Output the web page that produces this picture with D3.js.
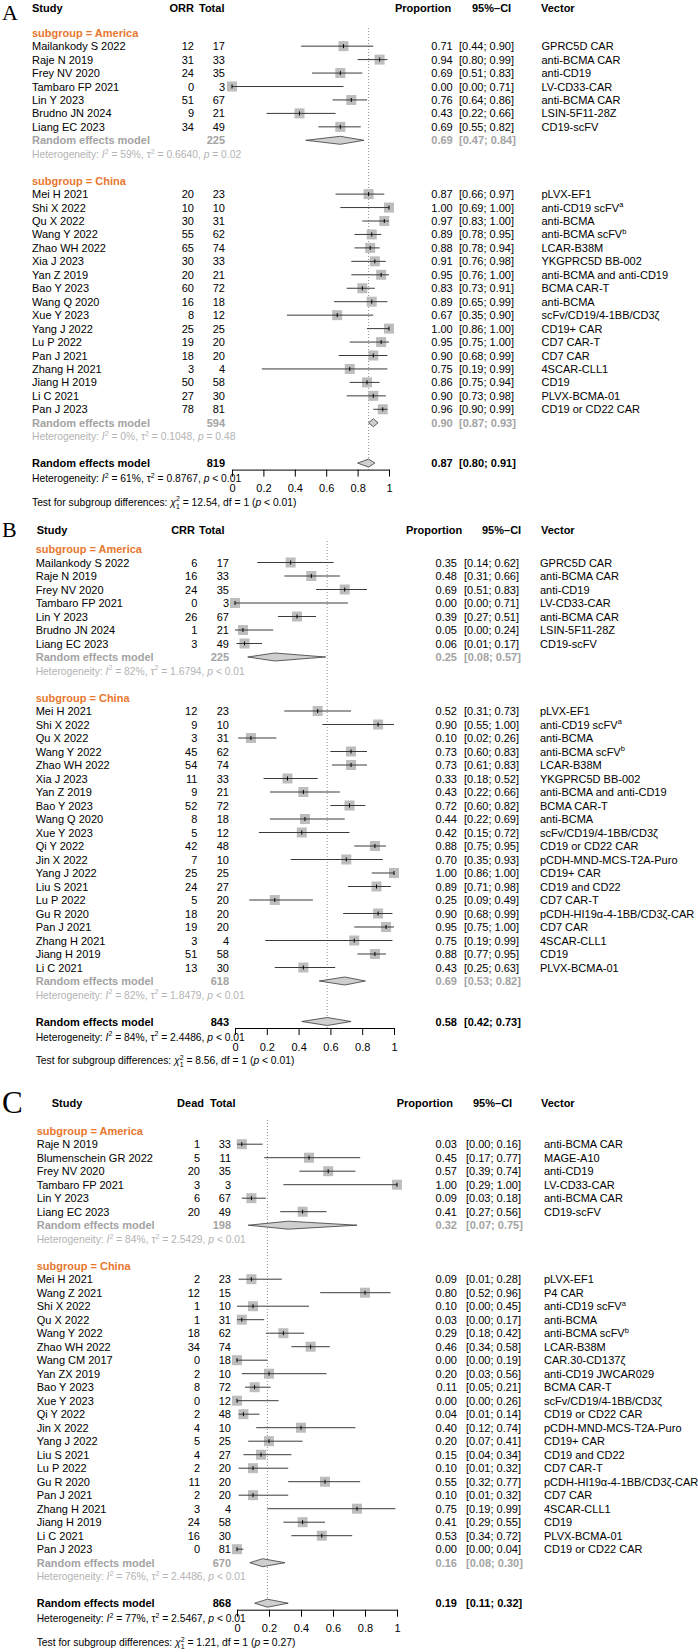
<!DOCTYPE html>
<html>
<head>
<meta charset="utf-8">
<script src="https://cdn.jsdelivr.net/npm/d3@7"></script>
<style>
  body { margin: 0; background: #fff; }
  svg text { font-family: "Liberation Sans", Arial, Helvetica, sans-serif; }
</style>
</head>
<body>
<svg id="chart" width="698" height="1652"></svg>
<script>
// rows: study, events, total, proportion, lower, upper, vector ("^" marks a superscript)
const A_america = [
  ["Mailankody S 2022", 12, 17, 0.71, 0.44, 0.90, "GPRC5D CAR"],
  ["Raje N 2019", 31, 33, 0.94, 0.80, 0.99, "anti-BCMA CAR"],
  ["Frey NV 2020", 24, 35, 0.69, 0.51, 0.83, "anti-CD19"],
  ["Tambaro FP 2021", 0, 3, 0.00, 0.00, 0.71, "LV-CD33-CAR"],
  ["Lin Y 2023", 51, 67, 0.76, 0.64, 0.86, "anti-BCMA CAR"],
  ["Brudno JN 2024", 9, 21, 0.43, 0.22, 0.66, "LSIN-5F11-28Z"],
  ["Liang EC 2023", 34, 49, 0.69, 0.55, 0.82, "CD19-scFV"]
];
const A_china = [
  ["Mei H 2021", 20, 23, 0.87, 0.66, 0.97, "pLVX-EF1"],
  ["Shi X 2022", 10, 10, 1.00, 0.69, 1.00, "anti-CD19 scFV^a"],
  ["Qu X 2022", 30, 31, 0.97, 0.83, 1.00, "anti-BCMA"],
  ["Wang Y 2022", 55, 62, 0.89, 0.78, 0.95, "anti-BCMA scFV^b"],
  ["Zhao WH 2022", 65, 74, 0.88, 0.78, 0.94, "LCAR-B38M"],
  ["Xia J 2023", 30, 33, 0.91, 0.76, 0.98, "YKGPRC5D BB-002"],
  ["Yan Z 2019", 20, 21, 0.95, 0.76, 1.00, "anti-BCMA and anti-CD19"],
  ["Bao Y 2023", 60, 72, 0.83, 0.73, 0.91, "BCMA CAR-T"],
  ["Wang Q 2020", 16, 18, 0.89, 0.65, 0.99, "anti-BCMA"],
  ["Xue Y 2023", 8, 12, 0.67, 0.35, 0.90, "scFv/CD19/4-1BB/CD3ζ"],
  ["Yang J 2022", 25, 25, 1.00, 0.86, 1.00, "CD19+ CAR"],
  ["Lu P 2022", 19, 20, 0.95, 0.75, 1.00, "CD7 CAR-T"],
  ["Pan J 2021", 18, 20, 0.90, 0.68, 0.99, "CD7 CAR"],
  ["Zhang H 2021", 3, 4, 0.75, 0.19, 0.99, "4SCAR-CLL1"],
  ["Jiang H 2019", 50, 58, 0.86, 0.75, 0.94, "CD19"],
  ["Li C 2021", 27, 30, 0.90, 0.73, 0.98, "PLVX-BCMA-01"],
  ["Pan J 2023", 78, 81, 0.96, 0.90, 0.99, "CD19 or CD22 CAR"]
];
// pooled: total, proportion, lower, upper  (America, China, overall)
const A_pooled = [[225, 0.69, 0.47, 0.84], [594, 0.90, 0.87, 0.93], [819, 0.87, 0.80, 0.91]];
const A_het = [["59%", "0.6640", "= 0.02"], ["0%", "0.1048", "= 0.48"], ["61%", "0.8767", "< 0.01"]];
const A_test = ["12.54", "(p < 0.01)"];

const B_america = [
  ["Mailankody S 2022", 6, 17, 0.35, 0.14, 0.62, "GPRC5D CAR"],
  ["Raje N 2019", 16, 33, 0.48, 0.31, 0.66, "anti-BCMA CAR"],
  ["Frey NV 2020", 24, 35, 0.69, 0.51, 0.83, "anti-CD19"],
  ["Tambaro FP 2021", 0, 3, 0.00, 0.00, 0.71, "LV-CD33-CAR"],
  ["Lin Y 2023", 26, 67, 0.39, 0.27, 0.51, "anti-BCMA CAR"],
  ["Brudno JN 2024", 1, 21, 0.05, 0.00, 0.24, "LSIN-5F11-28Z"],
  ["Liang EC 2023", 3, 49, 0.06, 0.01, 0.17, "CD19-scFV"]
];
const B_china = [
  ["Mei H 2021", 12, 23, 0.52, 0.31, 0.73, "pLVX-EF1"],
  ["Shi X 2022", 9, 10, 0.90, 0.55, 1.00, "anti-CD19 scFV^a"],
  ["Qu X 2022", 3, 31, 0.10, 0.02, 0.26, "anti-BCMA"],
  ["Wang Y 2022", 45, 62, 0.73, 0.60, 0.83, "anti-BCMA scFV^b"],
  ["Zhao WH 2022", 54, 74, 0.73, 0.61, 0.83, "LCAR-B38M"],
  ["Xia J 2023", 11, 33, 0.33, 0.18, 0.52, "YKGPRC5D BB-002"],
  ["Yan Z 2019", 9, 21, 0.43, 0.22, 0.66, "anti-BCMA and anti-CD19"],
  ["Bao Y 2023", 52, 72, 0.72, 0.60, 0.82, "BCMA CAR-T"],
  ["Wang Q 2020", 8, 18, 0.44, 0.22, 0.69, "anti-BCMA"],
  ["Xue Y 2023", 5, 12, 0.42, 0.15, 0.72, "scFv/CD19/4-1BB/CD3ζ"],
  ["Qi Y 2022", 42, 48, 0.88, 0.75, 0.95, "CD19 or CD22 CAR"],
  ["Jin X 2022", 7, 10, 0.70, 0.35, 0.93, "pCDH-MND-MCS-T2A-Puro"],
  ["Yang J 2022", 25, 25, 1.00, 0.86, 1.00, "CD19+ CAR"],
  ["Liu S 2021", 24, 27, 0.89, 0.71, 0.98, "CD19 and CD22"],
  ["Lu P 2022", 5, 20, 0.25, 0.09, 0.49, "CD7 CAR-T"],
  ["Gu R 2020", 18, 20, 0.90, 0.68, 0.99, "pCDH-HI19α-4-1BB/CD3ζ-CAR"],
  ["Pan J 2021", 19, 20, 0.95, 0.75, 1.00, "CD7 CAR"],
  ["Zhang H 2021", 3, 4, 0.75, 0.19, 0.99, "4SCAR-CLL1"],
  ["Jiang H 2019", 51, 58, 0.88, 0.77, 0.95, "CD19"],
  ["Li C 2021", 13, 30, 0.43, 0.25, 0.63, "PLVX-BCMA-01"]
];
const B_pooled = [[225, 0.25, 0.08, 0.57], [618, 0.69, 0.53, 0.82], [843, 0.58, 0.42, 0.73]];
const B_het = [["82%", "1.6794", "< 0.01"], ["82%", "1.8479", "< 0.01"], ["84%", "2.4486", "< 0.01"]];
const B_test = ["8.56", "(p < 0.01)"];

const C_america = [
  ["Raje N 2019", 1, 33, 0.03, 0.00, 0.16, "anti-BCMA CAR"],
  ["Blumenschein GR 2022", 5, 11, 0.45, 0.17, 0.77, "MAGE-A10"],
  ["Frey NV 2020", 20, 35, 0.57, 0.39, 0.74, "anti-CD19"],
  ["Tambaro FP 2021", 3, 3, 1.00, 0.29, 1.00, "LV-CD33-CAR"],
  ["Lin Y 2023", 6, 67, 0.09, 0.03, 0.18, "anti-BCMA CAR"],
  ["Liang EC 2023", 20, 49, 0.41, 0.27, 0.56, "CD19-scFV"]
];
const C_china = [
  ["Mei H 2021", 2, 23, 0.09, 0.01, 0.28, "pLVX-EF1"],
  ["Wang Z 2021", 12, 15, 0.80, 0.52, 0.96, "P4 CAR"],
  ["Shi X 2022", 1, 10, 0.10, 0.00, 0.45, "anti-CD19 scFV^a"],
  ["Qu X 2022", 1, 31, 0.03, 0.00, 0.17, "anti-BCMA"],
  ["Wang Y 2022", 18, 62, 0.29, 0.18, 0.42, "anti-BCMA scFV^b"],
  ["Zhao WH 2022", 34, 74, 0.46, 0.34, 0.58, "LCAR-B38M"],
  ["Wang CM 2017", 0, 18, 0.00, 0.00, 0.19, "CAR.30-CD137ζ"],
  ["Yan ZX 2019", 2, 10, 0.20, 0.03, 0.56, "anti-CD19 JWCAR029"],
  ["Bao Y 2023", 8, 72, 0.11, 0.05, 0.21, "BCMA CAR-T"],
  ["Xue Y 2023", 0, 12, 0.00, 0.00, 0.26, "scFv/CD19/4-1BB/CD3ζ"],
  ["Qi Y 2022", 2, 48, 0.04, 0.01, 0.14, "CD19 or CD22 CAR"],
  ["Jin X 2022", 4, 10, 0.40, 0.12, 0.74, "pCDH-MND-MCS-T2A-Puro"],
  ["Yang J 2022", 5, 25, 0.20, 0.07, 0.41, "CD19+ CAR"],
  ["Liu S 2021", 4, 27, 0.15, 0.04, 0.34, "CD19 and CD22"],
  ["Lu P 2022", 2, 20, 0.10, 0.01, 0.32, "CD7 CAR-T"],
  ["Gu R 2020", 11, 20, 0.55, 0.32, 0.77, "pCDH-HI19α-4-1BB/CD3ζ-CAR"],
  ["Pan J 2021", 2, 20, 0.10, 0.01, 0.32, "CD7 CAR"],
  ["Zhang H 2021", 3, 4, 0.75, 0.19, 0.99, "4SCAR-CLL1"],
  ["Jiang H 2019", 24, 58, 0.41, 0.29, 0.55, "CD19"],
  ["Li C 2021", 16, 30, 0.53, 0.34, 0.72, "PLVX-BCMA-01"],
  ["Pan J 2023", 0, 81, 0.00, 0.00, 0.04, "CD19 or CD22 CAR"]
];
const C_pooled = [[198, 0.32, 0.07, 0.75], [670, 0.16, 0.08, 0.30], [868, 0.19, 0.11, 0.32]];
const C_het = [["84%", "2.5429", "< 0.01"], ["76%", "2.4486", "< 0.01"], ["77%", "2.5467", "< 0.01"]];
const C_test = ["1.21", "(p = 0.27)"];

const subgroupNames = ["subgroup = America", "subgroup = China"];
const modelLabel = "Random effects model";
const tickValues = [0, 0.2, 0.4, 0.6, 0.8, 1];

const orange = "#e8772e", grayText = "#a3a3a3", grayHet = "#b3b3b3";
const FS = 11, FSH = 10.3;

const svg = d3.select("#chart");

const fmt = v => v.toFixed(2);
const ciText = (lo, hi) => "[" + fmt(lo) + "; " + fmt(hi) + "]";

// append tspans; part = [text, style, dx]
function addParts(text, parts, fs) {
  let shift = 0;
  parts.forEach(([t, s, dx]) => {
    const ts = text.append("tspan").text(t);
    let target = 0;
    if (s === "sup") { target = -fs * 0.4; ts.attr("font-size", fs * 0.68); }
    if (s === "sub") { target = fs * 0.3; ts.attr("font-size", fs * 0.68); }
    if (s === "i") ts.attr("font-style", "italic");
    if (target !== shift) ts.attr("dy", target - shift);
    if (dx) ts.attr("dx", dx);
    shift = target;
  });
}

function vectorParts(v) {
  const p = v.split("^");
  return p.length > 1 ? [[p[0]], [p[1], "sup"]] : [[v]];
}

function hetParts(h) {
  return [["Heterogeneity: "], ["I", "i"], ["2", "sup"], [" = " + h[0] + ", τ"], ["2", "sup"],
          [" = " + h[1] + ", "], ["p", "i"], [" " + h[2]]];
}

const panels = [
  { letter: "A", evLabel: "ORR", am: A_america, ch: A_china, pooled: A_pooled, het: A_het, test: A_test,
    L: { letterY: 20, letterSize: 22, headerY: 8, studyHeaderX: 32, evHeaderRight: 194, totHeaderX: 199,
         propHeaderX: 395, ciHeaderX: 472, vecHeaderX: 541, top: 32.7, rowH: 13.45, studyX: 32,
         evRight: 194, totRight: 225, x0: 232, x1: 389, propRight: 452.7, ciX: 459, vecX: 541.5, refTop: 28 } },
  { letter: "B", evLabel: "CRR", am: B_america, ch: B_china, pooled: B_pooled, het: B_het, test: B_test,
    L: { letterY: 537, letterSize: 22, headerY: 530, studyHeaderX: 36.7, evHeaderRight: 195, totHeaderX: 199,
         propHeaderX: 406, ciHeaderX: 482, vecHeaderX: 541, top: 549, rowH: 13.5, studyX: 35.7,
         evRight: 197.3, totRight: 229, x0: 235, x1: 394, propRight: 457, ciX: 464, vecX: 540, refTop: 541 } },
  { letter: "C", evLabel: "Dead", am: C_america, ch: C_china, pooled: C_pooled, het: C_het, test: C_test,
    L: { letterY: 1113, letterSize: 31, headerY: 1102.7, studyHeaderX: 51.7, evHeaderRight: 204, totHeaderX: 210,
         propHeaderX: 396.7, ciHeaderX: 473, vecHeaderX: 541, top: 1130.7, rowH: 13.5, studyX: 36.7,
         evRight: 200, totRight: 231, x0: 237, x1: 397, propRight: 457, ciX: 466, vecX: 544, refTop: 1120 } }
];

function drawPanel(p) {
  const L = p.L;
  const g = svg.append("g");
  const x = d3.scaleLinear().domain([0, 1]).range([L.x0, L.x1]);
  const y = d3.scaleLinear().domain([0, 1]).range([L.top, L.top + L.rowH]);
  const base = i => y(i) + 4;
  const nA = p.am.length, nC = p.ch.length;
  const overallIdx = nA + nC + 8;

  // panel letter
  g.append("text").attr("x", 2).attr("y", L.letterY)
    .style("font-family", "'Liberation Serif', 'DejaVu Serif', serif")
    .attr("font-size", L.letterSize).text(p.letter);

  // headers
  const hd = g.append("g").attr("font-size", FS).attr("font-weight", "bold");
  const hy = L.headerY + 4;
  hd.append("text").attr("x", L.studyHeaderX).attr("y", hy).text("Study");
  hd.append("text").attr("x", L.evHeaderRight).attr("y", hy).attr("text-anchor", "end").text(p.evLabel);
  hd.append("text").attr("x", L.totHeaderX).attr("y", hy).text("Total");
  hd.append("text").attr("x", L.propHeaderX).attr("y", hy).text("Proportion");
  hd.append("text").attr("x", L.ciHeaderX).attr("y", hy).text("95%\u2013CI");
  hd.append("text").attr("x", L.vecHeaderX).attr("y", hy).text("Vector");

  // reference line at the overall estimate
  const axisY = y(overallIdx) + 6.5;
  g.append("line")
    .attr("x1", x(p.pooled[2][1])).attr("x2", x(p.pooled[2][1]))
    .attr("y1", L.refTop).attr("y2", axisY)
    .attr("stroke", "#777").attr("stroke-width", 0.8).attr("stroke-dasharray", "1,2");

  const groups = [
    { rows: p.am, start: 0, pooled: p.pooled[0], het: p.het[0], name: subgroupNames[0] },
    { rows: p.ch, start: nA + 4, pooled: p.pooled[1], het: p.het[1], name: subgroupNames[1] }
  ];

  groups.forEach(gr => {
    g.append("text").attr("x", L.studyX).attr("y", base(gr.start))
      .attr("font-size", FS).attr("font-weight", "bold").attr("fill", orange).text(gr.name);

    const rowG = g.selectAll(null).data(gr.rows).enter().append("g")
      .attr("font-size", FS);
    rowG.append("text").attr("x", L.studyX).attr("y", (d, k) => base(gr.start + 1 + k)).text(d => d[0]);
    rowG.append("text").attr("x", L.evRight).attr("y", (d, k) => base(gr.start + 1 + k))
      .attr("text-anchor", "end").text(d => d[1]);
    rowG.append("text").attr("x", L.totRight).attr("y", (d, k) => base(gr.start + 1 + k))
      .attr("text-anchor", "end").text(d => d[2]);
    rowG.append("text").attr("x", L.propRight).attr("y", (d, k) => base(gr.start + 1 + k))
      .attr("text-anchor", "end").text(d => fmt(d[3]));
    rowG.append("text").attr("x", L.ciX).attr("y", (d, k) => base(gr.start + 1 + k))
      .text(d => ciText(d[4], d[5]));
    rowG.append("text").attr("x", L.vecX).attr("y", (d, k) => base(gr.start + 1 + k))
      .each(function (d) { addParts(d3.select(this), vectorParts(d[6]), FS); });

    // squares and CIs
    const sq = 10;
    rowG.append("rect")
      .attr("x", d => x(d[3]) - sq / 2).attr("y", (d, k) => y(gr.start + 1 + k) - sq / 2)
      .attr("width", sq).attr("height", sq).attr("fill", "#bdbdbd");
    rowG.append("line")
      .attr("x1", d => x(d[4])).attr("x2", d => x(d[5]))
      .attr("y1", (d, k) => y(gr.start + 1 + k)).attr("y2", (d, k) => y(gr.start + 1 + k))
      .attr("stroke", "#3a3a3a").attr("stroke-width", 1);
    rowG.append("line")
      .attr("x1", d => x(d[3])).attr("x2", d => x(d[3]))
      .attr("y1", (d, k) => y(gr.start + 1 + k) - 2).attr("y2", (d, k) => y(gr.start + 1 + k) + 2)
      .attr("stroke", "#000").attr("stroke-width", 1);

    // subgroup pooled row
    const ri = gr.start + gr.rows.length + 1;
    g.append("text").attr("x", L.studyX).attr("y", base(ri)).attr("font-size", FS)
      .attr("font-weight", "bold").attr("fill", grayText).text(modelLabel);
    g.append("text").attr("x", L.totRight).attr("y", base(ri)).attr("font-size", FS)
      .attr("font-weight", "bold").attr("fill", grayText).attr("text-anchor", "end").text(gr.pooled[0]);
    g.append("text").attr("x", L.propRight).attr("y", base(ri)).attr("font-size", FS)
      .attr("font-weight", "bold").attr("fill", grayText).attr("text-anchor", "end").text(fmt(gr.pooled[1]));
    g.append("text").attr("x", L.ciX).attr("y", base(ri)).attr("font-size", FS)
      .attr("font-weight", "bold").attr("fill", grayText).text(ciText(gr.pooled[2], gr.pooled[3]));
    diamond(g, x, y(ri), gr.pooled);

    const ht = g.append("text").attr("x", L.studyX).attr("y", base(ri + 1))
      .attr("font-size", FSH).attr("fill", grayHet);
    addParts(ht, hetParts(gr.het), FSH);
  });

  // overall
  const ov = p.pooled[2];
  const ob = g.append("g").attr("font-size", FS).attr("font-weight", "bold");
  ob.append("text").attr("x", L.studyX).attr("y", base(overallIdx)).text(modelLabel);
  ob.append("text").attr("x", L.totRight).attr("y", base(overallIdx)).attr("text-anchor", "end").text(ov[0]);
  ob.append("text").attr("x", L.propRight).attr("y", base(overallIdx)).attr("text-anchor", "end").text(fmt(ov[1]));
  ob.append("text").attr("x", L.ciX).attr("y", base(overallIdx)).text(ciText(ov[2], ov[3]));
  diamond(g, x, y(overallIdx), ov);

  const oh = g.append("text").attr("x", L.studyX).attr("y", base(overallIdx + 1) + 1.5).attr("font-size", FSH);
  addParts(oh, hetParts(p.het[2]), FSH);

  // axis
  const ax = g.append("g").attr("transform", "translate(0," + axisY + ")")
    .call(d3.axisBottom(x).tickValues(tickValues).tickSize(7).tickSizeOuter(0).tickPadding(8)
      .tickFormat(d => String(d)));
  ax.attr("font-family", null).attr("font-size", FS);
  ax.selectAll("path, line").attr("stroke", "#000").attr("stroke-width", 1);

  const tt = g.append("text").attr("x", L.studyX).attr("y", base(overallIdx + 1) + 25).attr("font-size", FSH);
  addParts(tt, [["Test for subgroup differences: "], ["χ", "i"], ["2", "sup"], ["1", "sub", -FSH * 0.38],
                [" = " + p.test[0] + ", df = 1 ("], ["p", "i"], [" " + p.test[1].slice(3)]], FSH);
}

function diamond(g, x, cy, pooled) {
  const h = 4;
  const pts = [[x(pooled[2]), cy], [x(pooled[1]), cy - h], [x(pooled[3]), cy], [x(pooled[1]), cy + h]];
  g.append("path").attr("d", d3.line()(pts) + "Z")
    .attr("fill", "#cfcfcf").attr("stroke", "#3a3a3a").attr("stroke-width", 0.8);
}

panels.forEach(drawPanel);
</script>
</body>
</html>
